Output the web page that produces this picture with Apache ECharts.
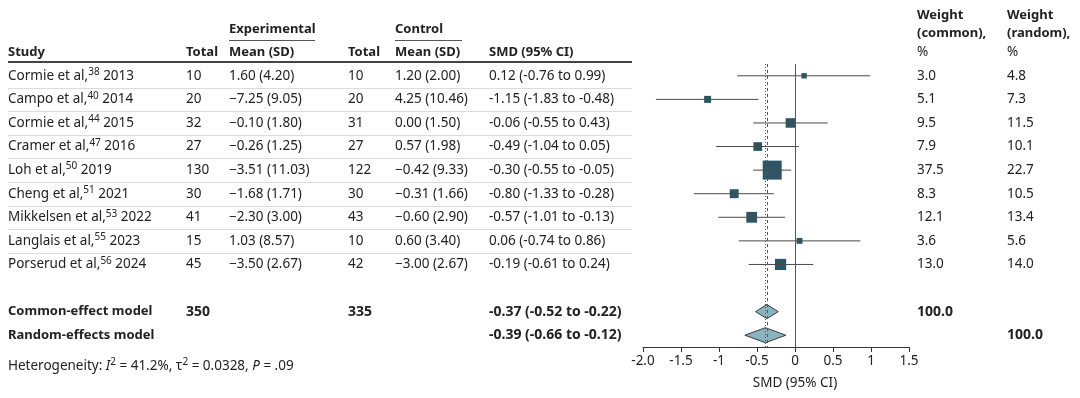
<!DOCTYPE html>
<html>
<head>
<meta charset="utf-8">
<script src="https://cdn.jsdelivr.net/npm/echarts@6/dist/echarts.min.js"></script>
<style>
  html, body { margin: 0; padding: 0; background: #fff; }
  #main { width: 1080px; height: 398px; }
</style>
</head>
<body>
<div id="main"></div>
<script>
// 数据
const studies = ['Cormie et al,', 'Campo et al,', 'Cormie et al,', 'Cramer et al,', 'Loh et al,', 'Cheng et al,', 'Mikkelsen et al,', 'Langlais et al,', 'Porserud et al,']
const refs = ['38', '40', '44', '47', '50', '51', '53', '55', '56']
const years = ['2013', '2014', '2015', '2016', '2019', '2021', '2022', '2023', '2024']
const expTotal = [10, 20, 32, 27, 130, 30, 41, 15, 45]
const expMean = ['1.60', '−7.25', '−0.10', '−0.26', '−3.51', '−1.68', '−2.30', '1.03', '−3.50']
const expSD = ['4.20', '9.05', '1.80', '1.25', '11.03', '1.71', '3.00', '8.57', '2.67']
const ctlTotal = [10, 20, 31, 27, 122, 30, 43, 10, 42]
const ctlMean = ['1.20', '4.25', '0.00', '0.57', '−0.42', '−0.31', '−0.60', '0.60', '−3.00']
const ctlSD = ['2.00', '10.46', '1.50', '1.98', '9.33', '1.66', '2.90', '3.40', '2.67']
const smd = [0.12, -1.15, -0.06, -0.49, -0.30, -0.80, -0.57, 0.06, -0.19]
const lower = [-0.76, -1.83, -0.55, -1.04, -0.55, -1.33, -1.01, -0.74, -0.61]
const upper = [0.99, -0.48, 0.43, 0.05, -0.05, -0.28, -0.13, 0.86, 0.24]
const wCommon = [3.0, 5.1, 9.5, 7.9, 37.5, 8.3, 12.1, 3.6, 13.0]
const wRandom = [4.8, 7.3, 11.5, 10.1, 22.7, 10.5, 13.4, 5.6, 14.0]

const models = ['Common-effect model', 'Random-effects model']
const modelExpTotal = [350, null]
const modelCtlTotal = [335, null]
const modelEst = [-0.37, -0.39]
const modelLower = [-0.52, -0.66]
const modelUpper = [-0.22, -0.12]
const modelRows = [10, 11]

const xTicks = ['-2.0', '-1.5', '-1', '-0.5', '0', '0.5', '1', '1.5']

const FONT = 'Noto Sans'
const INK = '#222'
const FS = 13.5
const fmt2 = v => v.toFixed(2)
const ciText = (e, l, u) => `${fmt2(e)} (${fmt2(l)} to ${fmt2(u)})`

var myChart = echarts.init(document.getElementById('main'))

var option = {
  animation: false,
  grid: { left: 643, right: 171, top: 64, bottom: 51 },
  xAxis: {
    type: 'value',
    min: -2,
    max: 1.5,
    interval: 0.5,
    axisLine: { show: true, onZero: false, lineStyle: { color: '#333', width: 1 } },
    axisTick: { show: true, length: 5, lineStyle: { color: '#333' } },
    splitLine: { show: false },
    axisLabel: {
      color: INK, fontSize: 13.5, fontFamily: FONT, margin: 7,
      formatter: v => xTicks[Math.round((v + 2) / 0.5)]
    }
  },
  yAxis: {
    type: 'value', inverse: true, min: -0.5, max: 11.5, show: false
  },
  series: [
    {
      // 参考线
      type: 'line',
      data: [],
      silent: true,
      markLine: {
        symbol: 'none',
        silent: true,
        label: { show: false },
        data: [
          { xAxis: 0, lineStyle: { color: '#555', type: 'solid', width: 1 } },
          { xAxis: modelEst[0], lineStyle: { color: '#555', type: [3, 3], width: 1 } },
          { xAxis: modelEst[1], lineStyle: { color: '#555', type: [1, 2], width: 1 } }
        ]
      }
    },
    {
      type: 'scatter',
      symbol: 'rect',
      z: 3,
      data: smd.map((v, i) => [v, i, wCommon[i]]),
      symbolSize: v => 3.1 * Math.sqrt(v[2]),
      itemStyle: { color: '#2d5563', opacity: 1 }
    },
    {
      type: 'custom',
      z: 4,
      data: smd.map((v, i) => [lower[i], upper[i], i]),
      encode: { x: [0, 1], y: 2 },
      renderItem: (params, api) => {
        const p1 = api.coord([api.value(0), api.value(2)])
        const p2 = api.coord([api.value(1), api.value(2)])
        return {
          type: 'line',
          shape: { x1: p1[0], y1: p1[1], x2: p2[0], y2: p2[1] },
          style: { stroke: '#4a4a4a', lineWidth: 1 }
        }
      }
    },
    {
      type: 'custom',
      z: 4,
      data: modelEst.map((v, i) => [v, modelLower[i], modelUpper[i], modelRows[i]]),
      encode: { x: [1, 2], y: 3 },
      renderItem: (params, api) => {
        const r = api.value(3), e = api.value(0)
        const h = params.dataIndex === 0 ? 0.3 : 0.32
        const pts = [
          api.coord([api.value(1), r]),
          api.coord([e, r - h]),
          api.coord([api.value(2), r]),
          api.coord([e, r + h])
        ]
        return {
          type: 'polygon',
          shape: { points: pts },
          style: { fill: '#8ab3c2', stroke: '#3a3a3a', lineWidth: 1 }
        }
      }
    }
  ]
}

myChart.setOption(option)

// 表格文字，按行号换算成像素
const rowY = r => myChart.convertToPixel({ yAxisIndex: 0 }, r)
const colX = { study: 8, eTot: 186, eMean: 229, cTot: 348, cMean: 395, smd: 489, wc: 917, wr: 1007 }

const g = []
function txt(text, x, y, bold, extra) {
  g.push({
    type: 'text', x: x, y: y, silent: true,
    style: Object.assign({
      text: text, fill: INK, fontSize: bold ? 13 : FS, fontFamily: FONT,
      fontWeight: bold ? 'bold' : 'normal', verticalAlign: 'middle', align: 'left'
    }, extra || {})
  })
}
function hline(x1, x2, y, color, w) {
  g.push({ type: 'line', silent: true, shape: { x1: x1, y1: y, x2: x2, y2: y }, style: { stroke: color, lineWidth: w } })
}

const richBase = {
  n: { fontSize: FS, fontFamily: FONT, fill: INK, lineHeight: 17 },
  i: { fontSize: FS, fontFamily: FONT, fill: INK, fontStyle: 'italic', lineHeight: 17 },
  s: { fontSize: 10, fontFamily: FONT, fill: INK, verticalAlign: 'top', lineHeight: 11 }
}

// 表头
txt('Experimental', colX.eMean, 29, true)
hline(colX.eMean, 315, 40.5, '#555', 1)
txt('Control', colX.cMean, 29, true)
hline(colX.cMean, 462, 40.5, '#555', 1)
const headY = 52
txt('Study', colX.study, headY, true)
txt('Total', colX.eTot, headY, true)
txt('Mean (SD)', colX.eMean, headY, true)
txt('Total', colX.cTot, headY, true)
txt('Mean (SD)', colX.cMean, headY, true)
txt('SMD (95% CI)', colX.smd, headY, true)
txt('Weight', colX.wc, 15, true)
txt('(common),', colX.wc, 33, true)
txt('%', colX.wc, 52, false)
txt('Weight', colX.wr, 15, true)
txt('(random),', colX.wr, 33, true)
txt('%', colX.wr, 52, false)
hline(8, 632, 62, '#444', 2)

// 研究行
studies.forEach((s, i) => {
  const y = rowY(i)
  txt(`{n|${s}}{s|${refs[i]}}{n| ${years[i]}}`, colX.study, y, false, { rich: richBase })
  txt(String(expTotal[i]), colX.eTot, y)
  txt(`${expMean[i]} (${expSD[i]})`, colX.eMean, y)
  txt(String(ctlTotal[i]), colX.cTot, y)
  txt(`${ctlMean[i]} (${ctlSD[i]})`, colX.cMean, y)
  txt(ciText(smd[i], lower[i], upper[i]), colX.smd, y)
  txt(wCommon[i].toFixed(1), colX.wc, y)
  txt(wRandom[i].toFixed(1), colX.wr, y)
  if (i < studies.length - 1) {
    const mid = (rowY(i) + rowY(i + 1)) / 2
    hline(8, 632, Math.round(mid) + 0.5, '#dcdcdc', 1)
  }
})

// 合并效应行
models.forEach((m, k) => {
  const y = rowY(modelRows[k])
  txt(m, colX.study, y, true)
  if (modelExpTotal[k] != null) txt(String(modelExpTotal[k]), colX.eTot, y, true, { fontSize: 14 })
  if (modelCtlTotal[k] != null) txt(String(modelCtlTotal[k]), colX.cTot, y, true, { fontSize: 14 })
  txt(ciText(modelEst[k], modelLower[k], modelUpper[k]), colX.smd, y, true, { fontSize: 14 })
  txt('100.0', k === 0 ? colX.wc : colX.wr, y, true, { fontSize: 14 })
})

txt('Heterogeneity: {i|I}{s|2}{n| = 41.2%, τ}{s|2}{n| = 0.0328, }{i|P}{n| = .09}', 8, 366, false, {
  rich: richBase
})

// 横轴标题，居中于 0
txt('SMD (95% CI)', myChart.convertToPixel({ xAxisIndex: 0 }, 0), 383, false, { align: 'center' })

myChart.setOption({ graphic: g })
</script>
</body>
</html>
